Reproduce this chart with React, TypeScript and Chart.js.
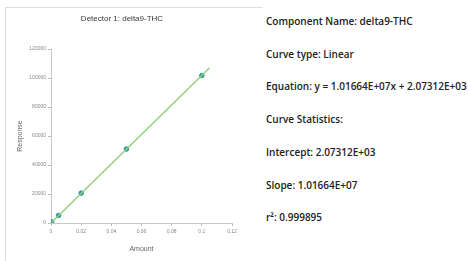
import React, { useEffect, useRef } from "react";
import { Chart, registerables } from "chart.js";

Chart.register(...registerables);

const pointX = [0.0005, 0.005, 0.02, 0.05, 0.1];
const pointY = [700, 5200, 20600, 51000, 101700];
const fitX = [0.0005, 0.105];
const fitY = [500, 106900];
const chartTitle = "Detector 1: delta9-THC";
const xTitle = "Amount";
const yTitle = "Response";
const infoLines = [
  "Component Name: delta9-THC",
  "Curve type: Linear",
  "Equation: y = 1.01664E+07x + 2.07312E+03",
  "Curve Statistics:",
  "Intercept: 2.07312E+03",
  "Slope: 1.01664E+07",
  "r²: 0.999895",
];

export default function App() {
  const ref = useRef<HTMLCanvasElement>(null);
  useEffect(() => {
    if (!ref.current) return;
    const tickFont = { family: "Arial, 'Liberation Sans', sans-serif", size: 5 };
    const chart = new Chart(ref.current, {
      type: "scatter",
      data: {
        datasets: [
          {
            type: "line",
            data: fitX.map((x, i) => ({ x, y: fitY[i] })),
            borderColor: "#93cf80",
            borderWidth: 1.5,
            pointRadius: 0,
            fill: false,
          } as any,
          {
            data: pointX.map((x, i) => ({ x, y: pointY[i] })),
            backgroundColor: "#2b9c9c",
            borderColor: "#2b9c9c",
            pointRadius: 2.3,
          },
        ],
      },
      options: {
        animation: false,
        responsive: false,
        layout: { padding: { top: 14, left: 12, right: 8, bottom: 8 } },
        plugins: {
          legend: { display: false },
          tooltip: { enabled: false },
          title: {
            display: true,
            text: chartTitle,
            color: "#3a3a3a",
            font: { family: "Arial, 'Liberation Sans', sans-serif", size: 8, weight: "normal" },
            padding: { top: 0, bottom: 25.4 },
          },
        },
        scales: {
          x: {
            type: "linear",
            min: 0,
            max: 0.12,
            ticks: {
              stepSize: 0.02,
              color: "#888",
              font: tickFont,
              padding: 3,
              maxRotation: 0,
              callback: (v: any) => String(Math.round(Number(v) * 100) / 100),
            },
            grid: { drawOnChartArea: false, tickLength: 3, color: "#bbb" },
            border: { display: true, color: "#c8c8c8" },
            title: {
              display: true,
              text: xTitle,
              color: "#666",
              font: { family: "Arial, 'Liberation Sans', sans-serif", size: 7 },
              padding: { top: 0, bottom: 0 },
            },
            afterFit: (s: any) => {
              s.height = 30;
            },
          },
          y: {
            type: "linear",
            min: 0,
            max: 120000,
            ticks: {
              stepSize: 20000,
              color: "#888",
              font: tickFont,
              padding: 2,
              callback: (v: any) => String(Math.round(Number(v))),
            },
            grid: { drawOnChartArea: false, tickLength: 3, color: "#bbb" },
            border: { display: true, color: "#c8c8c8" },
            title: {
              display: true,
              text: yTitle,
              color: "#666",
              font: { family: "Arial, 'Liberation Sans', sans-serif", size: 7 },
              padding: { top: 4, bottom: 0 },
            },
            afterFit: (s: any) => {
              s.width = 39;
            },
          },
        },
      },
    });
    return () => chart.destroy();
  }, []);

  const top0 = 21;
  const gap = 32.7;
  return (
    <div style={{ position: "absolute", left: 0, top: 0, width: 468, height: 261, background: "#fff", overflow: "hidden" }}>
      <div
        style={{
          position: "absolute",
          left: 5,
          top: 7,
          width: 257,
          height: 260,
          borderTop: "1px solid #dedede",
          borderLeft: "1px solid #dedede",
        }}
      />
      <canvas ref={ref} width={240} height={261} style={{ position: "absolute", left: 0, top: 0, width: 240, height: 261 }} />
      {infoLines.map((t, i) => (
        <div
          key={i}
          style={{
            position: "absolute",
            left: 266,
            top: top0 + i * gap - 7,
            fontFamily: "'Open Sans', sans-serif",
            fontWeight: 600,
            fontSize: 10,
            lineHeight: "14px",
            color: "#222",
            whiteSpace: "nowrap",
          }}
        >
          {t}
        </div>
      ))}
    </div>
  );
}
